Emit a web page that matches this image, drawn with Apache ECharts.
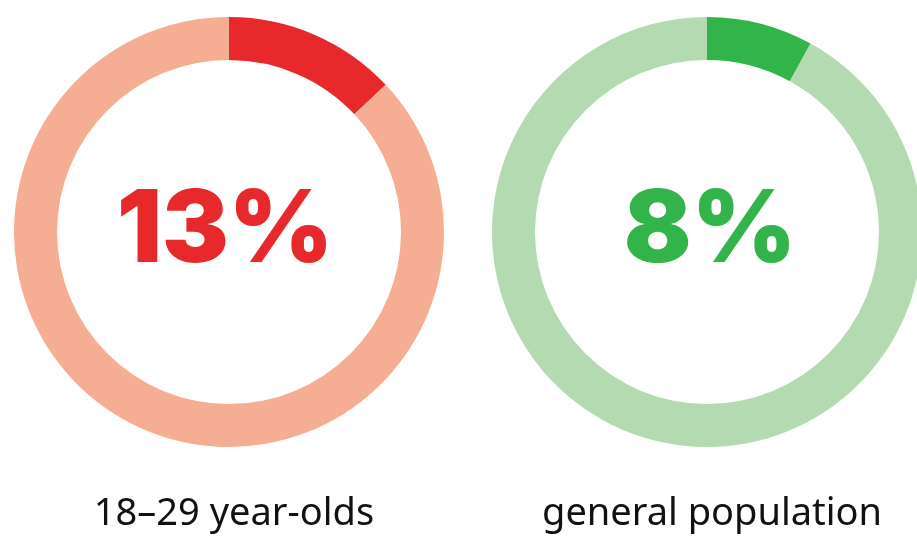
<!DOCTYPE html>
<html>
<head>
<meta charset="utf-8">
<script src="https://cdn.jsdelivr.net/npm/echarts@6/dist/echarts.min.js"></script>
<style>html,body{margin:0;padding:0;background:#fff}#c{width:917px;height:536px}</style>
</head>
<body>
<div id="c"></div>
<script>
const groups = ['18–29 year-olds', 'general population'];
const shares = [13, 8];
const mainColors = ['#e8292b', '#33b44a'];
const restColors = ['#f5ad93', '#b3dab0'];
const centersX = [229, 707];
const labelPads = [[64, 8, 0, 0], [64, 0, 0, 6]];

const chart = echarts.init(document.getElementById('c'), null, {renderer: 'canvas'});
const series = groups.map((g, i) => ({
  type: 'pie',
  center: [centersX[i], 232],
  radius: [172, 215],
  startAngle: 90,
  clockwise: true,
  silent: true,
  animation: false,
  label: {show: false},
  labelLine: {show: false},
  emphasis: {disabled: true},
  data: [
    {value: shares[i], name: g, itemStyle: {color: mainColors[i]},
     label: {show: true, position: 'center', formatter: shares[i] + '%',
       fontFamily: 'Inter', fontWeight: 900, fontSize: 100, color: mainColors[i],
       padding: labelPads[i]}},
    {value: 100 - shares[i], name: 'rest', itemStyle: {color: restColors[i]}}
  ]
}));
const titles = groups.map((g, i) => ({
  text: g, left: centersX[i], top: 490, textAlign: 'center',
  textStyle: {fontFamily: 'Noto Sans', fontWeight: 400, fontSize: 38, color: '#111'}
}));
chart.setOption({
  animation: false,
  title: titles,
  series: series
});
</script>
</body>
</html>
